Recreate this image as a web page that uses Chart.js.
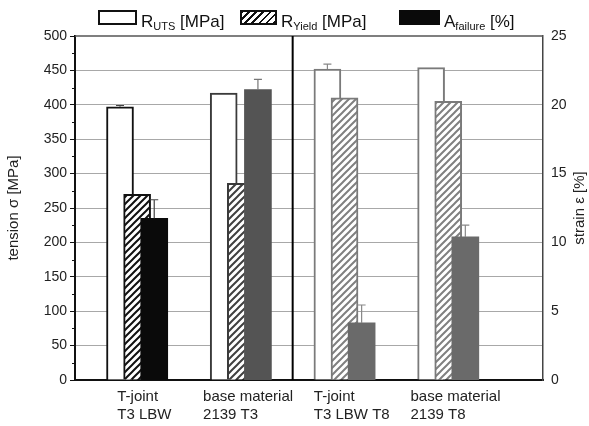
<!DOCTYPE html>
<html>
<head>
<meta charset="utf-8">
<script src="https://cdn.jsdelivr.net/npm/chart.js@4/dist/chart.umd.min.js"></script>
<style>
  html, body { margin: 0; padding: 0; background: #fff; }
  #wrap { position: relative; width: 589px; height: 426px; font-family: "Liberation Sans", Arial, sans-serif; }
  #chart { position: absolute; left: 0; top: 0; }
  .lg { position: absolute; top: 13px; font-size: 17px; line-height: 17px; color: #111; white-space: nowrap; }
  .lg sub { font-size: 11px; vertical-align: -3px; line-height: 0; }
  .box { position: absolute; top: 10px; height: 15px; box-sizing: border-box; }
</style>
</head>
<body>
<div id="wrap">
  <canvas id="chart" width="589" height="426"></canvas>
  <div id="legend"></div>
</div>
<script>
// ---- data ----
const categories = [["T-joint", "T3 LBW"], ["base material", "2139 T3"], ["T-joint", "T3 LBW T8"], ["base material", "2139 T8"]];
const seriesNames = [["R", "UTS", " [MPa]"], ["R", "Yield", " [MPa]"], ["A", "failure", " [%]"]];
const rUts = [397, 417, 452, 454];          // MPa
const rUtsErr = [2, 0, 7, 0];
const rYield = [270, 286, 410, 405];        // MPa
const rYieldErr = [0, 0, 0, 0];
const aFailure = [11.75, 21.1, 4.15, 10.4]; // %
const aFailureErr = [1.35, 0.75, 1.3, 0.85];
const tensionRange = [0, 500];
const strainRange = [0, 25];
const leftTitle = 'tension σ [MPa]';
const rightTitle = 'strain ε [%]';

// ---- styles ----
const edgeColors = ['#111111', '#3a3a3a', '#7a7a7a', '#7a7a7a'];
const fillColors = ['#0a0a0a', '#545454', '#6a6a6a', '#6a6a6a'];
const hatchColors = ['#111111', '#404040', '#808080', '#808080'];
const whiskerColors = ['#444444', '#777777', '#888888', '#888888'];
const barShift = 0.165;
const labelShift = 0.07;
const fontFamily = '"Liberation Sans", Arial, sans-serif';

function hatch(color) {
  const s = 7;
  const c = document.createElement('canvas');
  c.width = s; c.height = s;
  const g = c.getContext('2d');
  g.fillStyle = '#ffffff';
  g.fillRect(0, 0, s, s);
  g.strokeStyle = color;
  g.lineWidth = 2;
  g.beginPath();
  g.moveTo(-1, s + 1); g.lineTo(s + 1, -1);
  g.moveTo(-1, 1); g.lineTo(1, -1);
  g.moveTo(s - 1, s + 1); g.lineTo(s + 1, s - 1);
  g.stroke();
  return g.createPattern(c, 'repeat');
}

// ---- legend (HTML, for subscripts) ----
const legendEl = document.getElementById('legend');
const legendBoxLeft = [98, 240, 399];
const legendBoxW = [39, 37, 41];
const legendBoxStyles = [
  'background:#fff;border:2px solid #111;',
  'border:2px solid #111;background:repeating-linear-gradient(-45deg,#111 0 2px,#fff 2px 5px);',
  'background:#0a0a0a;'
];
seriesNames.forEach((n, i) => {
  const b = document.createElement('div');
  b.className = 'box';
  b.style.cssText = 'left:' + legendBoxLeft[i] + 'px;width:' + legendBoxW[i] + 'px;' + legendBoxStyles[i];
  legendEl.appendChild(b);
  const t = document.createElement('div');
  t.className = 'lg';
  t.style.left = (legendBoxLeft[i] + legendBoxW[i] + 4) + 'px';
  t.innerHTML = n[0] + '<sub>' + n[1] + '</sub>' + n[2];
  legendEl.appendChild(t);
});

// ---- plugins ----
const framePlugin = {
  id: 'frame',
  afterDatasetsDraw(chart) {
    const { ctx, chartArea: a, scales } = chart;
    ctx.save();
    // top frame
    ctx.strokeStyle = '#555';
    ctx.lineWidth = 1.5;
    ctx.beginPath();
    ctx.moveTo(a.left, a.top); ctx.lineTo(a.right, a.top);
    ctx.stroke();
    // separator between T3 and T8 groups
    const xs = scales.x.getPixelForValue(1.5);
    ctx.strokeStyle = '#000';
    ctx.lineWidth = 2;
    ctx.beginPath();
    ctx.moveTo(xs, a.top); ctx.lineTo(xs, a.bottom);
    ctx.stroke();
    // minor ticks on left axis
    ctx.strokeStyle = '#111';
    ctx.lineWidth = 1;
    ctx.beginPath();
    for (let v = tensionRange[0] + 25; v < tensionRange[1]; v += 50) {
      const y = Math.round(scales.y.getPixelForValue(v)) + 0.5;
      ctx.moveTo(a.left - 3, y); ctx.lineTo(a.left, y);
    }
    ctx.stroke();
    ctx.restore();
  },
  afterDraw(chart) {
    const { ctx, chartArea: a, scales } = chart;
    ctx.save();
    ctx.font = '15px ' + fontFamily;
    ctx.fillStyle = '#222';
    ctx.textAlign = 'left';
    ctx.textBaseline = 'top';
    categories.forEach((lines, i) => {
      const w = Math.max(...lines.map(l => ctx.measureText(l).width));
      const left = scales.x.getPixelForValue(i + labelShift) - w / 2;
      lines.forEach((l, k) => ctx.fillText(l, left, a.bottom + 9 + k * 18));
    });
    // right axis title, reading bottom-to-top
    ctx.translate(580, (a.top + a.bottom) / 2);
    ctx.rotate(-Math.PI / 2);
    ctx.textAlign = 'center';
    ctx.textBaseline = 'middle';
    ctx.fillText(rightTitle, 0, 0);
    ctx.restore();
  }
};

const errorPlugin = {
  id: 'errs',
  afterDatasetsDraw(chart) {
    const { ctx } = chart;
    ctx.save();
    chart.data.datasets.forEach((ds, di) => {
      const meta = chart.getDatasetMeta(di);
      const sc = chart.scales[ds.yAxisID];
      ds.errors.forEach((e, i) => {
        if (!e) return;
        const el = meta.data[i];
        const y0 = el.y;
        const y1 = sc.getPixelForValue(ds.data[i].y + e);
        ctx.strokeStyle = whiskerColors[i];
        ctx.lineWidth = 1.2;
        ctx.beginPath();
        ctx.moveTo(el.x, y0); ctx.lineTo(el.x, y1);
        ctx.moveTo(el.x - 4, y1); ctx.lineTo(el.x + 4, y1);
        ctx.stroke();
      });
    });
    ctx.restore();
  }
};

const font = { family: fontFamily };

new Chart(document.getElementById('chart'), {
  type: 'bar',
  data: {
    datasets: [
      {
        label: seriesNames[0].join(''),
        data: categories.map((c, i) => ({ x: i - barShift, y: rUts[i] })),
        errors: rUtsErr,
        yAxisID: 'y',
        backgroundColor: '#ffffff',
        borderColor: edgeColors,
        borderWidth: 2,
        order: 3
      },
      {
        label: seriesNames[1].join(''),
        data: categories.map((c, i) => ({ x: i, y: rYield[i] })),
        errors: rYieldErr,
        yAxisID: 'y',
        backgroundColor: hatchColors.map(hatch),
        borderColor: edgeColors,
        borderWidth: 2,
        order: 2
      },
      {
        label: seriesNames[2].join(''),
        data: categories.map((c, i) => ({ x: i + barShift, y: aFailure[i] })),
        errors: aFailureErr,
        yAxisID: 'y2',
        backgroundColor: fillColors,
        borderWidth: 0,
        order: 1
      }
    ]
  },
  options: {
    responsive: false,
    animation: false,
    devicePixelRatio: 1,
    layout: { padding: { top: 36, left: 0, right: 0, bottom: 0 } },
    datasets: { bar: { barThickness: 27, grouped: false } },
    plugins: { legend: { display: false }, tooltip: { enabled: false } },
    scales: {
      x: {
        type: 'linear',
        offset: false,
        bounds: 'data',
        min: -0.599,
        max: 3.914,
        afterBuildTicks(scale) {
          scale.ticks = categories.map((c, i) => ({ value: i + labelShift }));
        },
        afterFit(scale) { scale.height = 46; },
        grid: { display: false, drawTicks: false, offset: false },
        border: { display: true, color: '#111', width: 2 },
        ticks: { display: false }
      },
      y: {
        position: 'left',
        min: tensionRange[0],
        max: tensionRange[1],
        afterFit(scale) { scale.width = 75; },
        ticks: {
          stepSize: 50,
          autoSkip: false,
          padding: 3,
          color: '#222',
          font: { ...font, size: 14 }
        },
        grid: {
          drawOnChartArea: true,
          tickLength: 5,
          tickColor: '#111',
          lineWidth: 1,
          color: ctx => (ctx.tick && ctx.tick.value > tensionRange[0] && ctx.tick.value < tensionRange[1]) ? '#a8a8a8' : 'rgba(0,0,0,0)'
        },
        border: { display: true, color: '#111', width: 2 },
        title: { display: true, text: leftTitle, color: '#222', font: { ...font, size: 15 }, padding: { top: 5, bottom: 0 } }
      },
      y2: {
        position: 'right',
        min: strainRange[0],
        max: strainRange[1],
        afterFit(scale) { scale.width = 46; },
        ticks: { stepSize: 5, padding: 8, color: '#222', font: { ...font, size: 14 } },
        grid: { display: false, drawTicks: false },
        border: { display: true, color: '#444', width: 1.5 }
      }
    }
  },
  plugins: [framePlugin, errorPlugin]
});
</script>
</body>
</html>
